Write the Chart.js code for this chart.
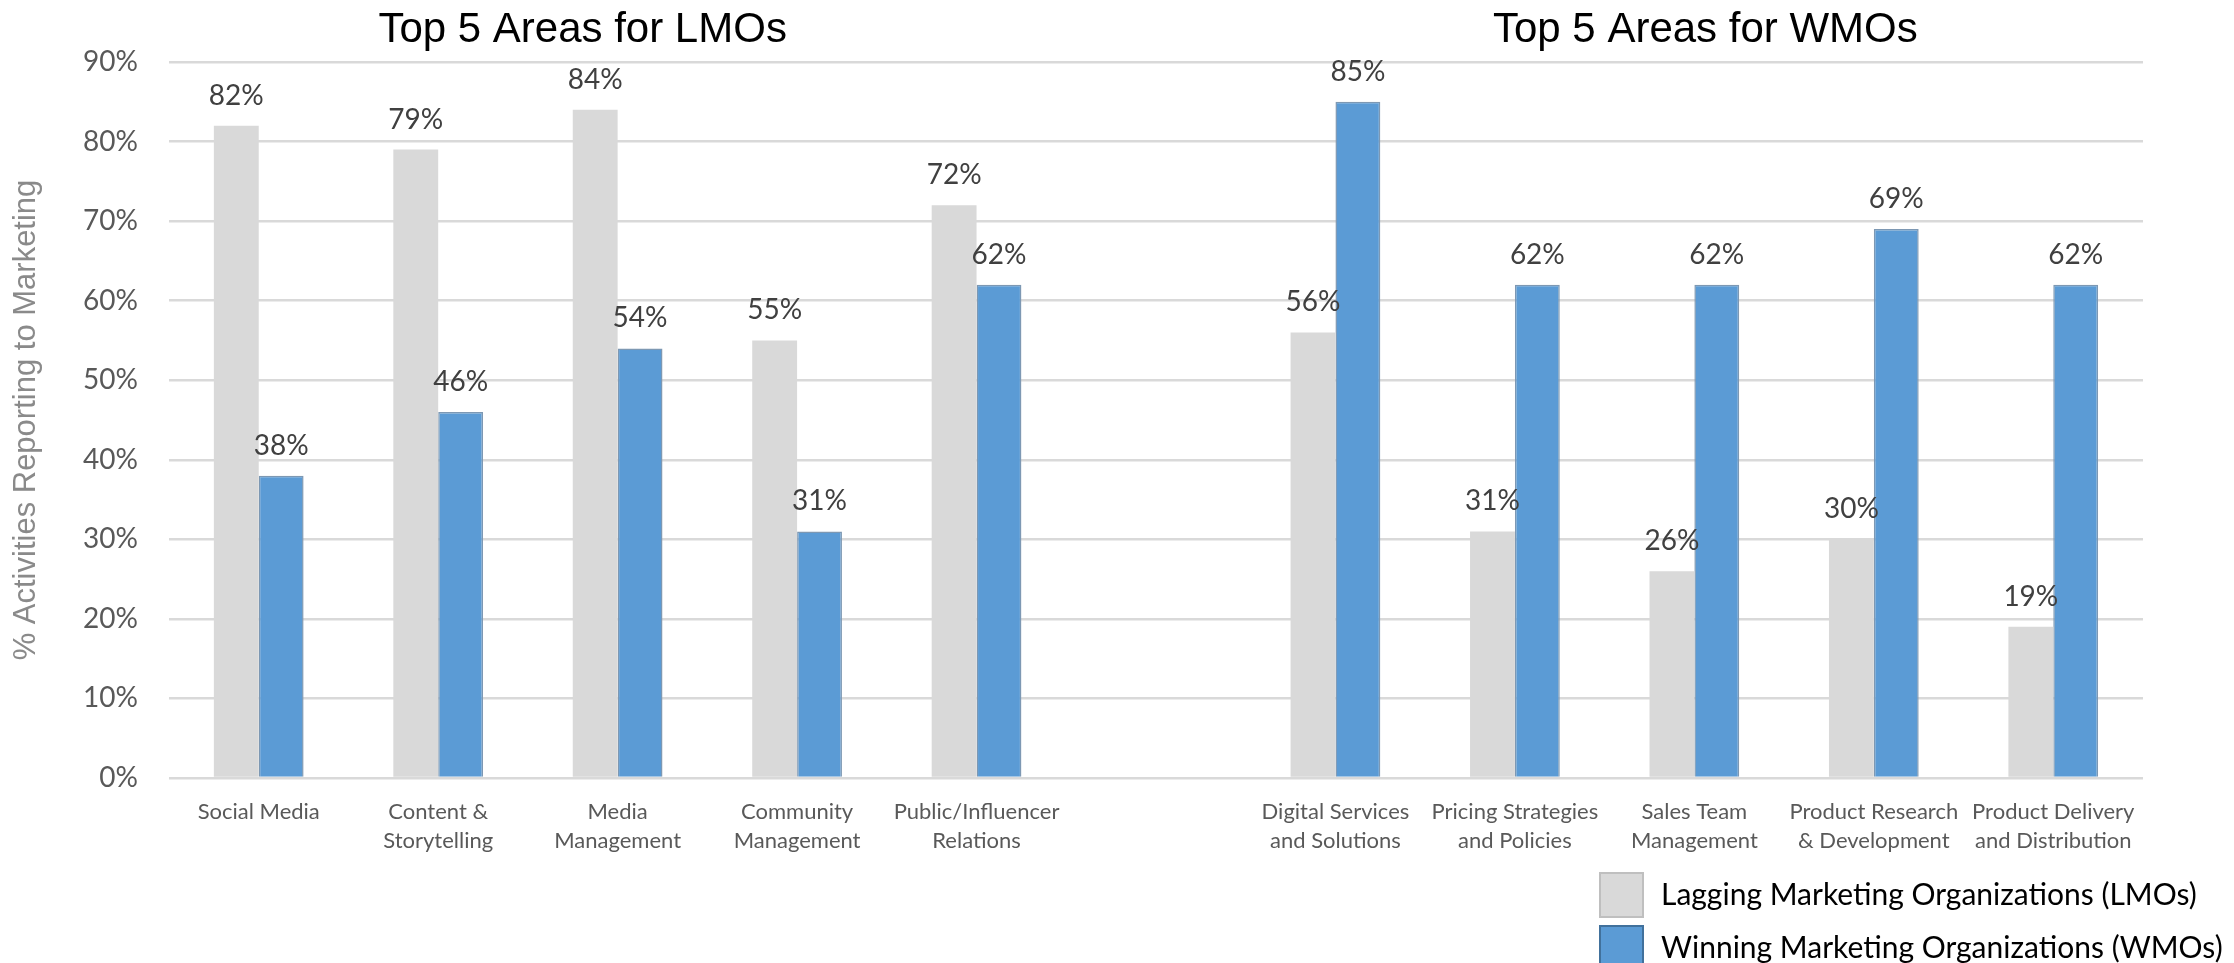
<!DOCTYPE html>
<html>
<head>
<meta charset="utf-8">
<title>Top 5 Areas for LMOs and WMOs</title>
<script src="https://cdn.jsdelivr.net/npm/chart.js@4/dist/chart.umd.min.js"></script>
<style>
  html, body { margin: 0; padding: 0; background: #fff; }
  canvas { display: block; }
</style>
</head>
<body>
<canvas id="myChart" width="2234" height="963"></canvas>
<script>
// categories: five LMO areas, an empty spacer, five WMO areas
const areas = [
  "Social Media",
  ["Content &", "Storytelling"],
  ["Media", "Management"],
  ["Community", "Management"],
  ["Public/Influencer", "Relations"],
  "",
  ["Digital Services", "and Solutions"],
  ["Pricing Strategies", "and Policies"],
  ["Sales Team", "Management"],
  ["Product Research", "& Development"],
  ["Product Delivery", "and Distribution"]
];
const lmoValues = [82, 79, 84, 55, 72, null, 56, 31, 26, 30, 19];
const wmoValues = [38, 46, 54, 31, 62, null, 85, 62, 62, 69, 62];
const seriesNames = ["Lagging Marketing Organizations (LMOs)", "Winning Marketing Organizations (WMOs)"];
const groupTitles = ["Top 5 Areas for LMOs", "Top 5 Areas for WMOs"];
const yMax = 90;
const yStep = 10;

const grayFill = "#d9d9d9";
const blueFill = "#5b9bd5";

// percentage written above each bar
const valueLabels = {
  id: "valueLabels",
  afterDatasetsDraw(chart) {
    const ctx = chart.ctx;
    ctx.save();
    ctx.font = "28px Lato";
    ctx.fillStyle = "#404040";
    ctx.textAlign = "center";
    ctx.textBaseline = "alphabetic";
    chart.data.datasets.forEach((ds, i) => {
      chart.getDatasetMeta(i).data.forEach((bar, j) => {
        if (ds.data[j] == null) return;
        ctx.fillText(ds.data[j] + "%", bar.x, bar.y - 21);
      });
    });
    ctx.restore();
  }
};

// group titles, rotated y title and the legend in the lower right
const decorations = {
  id: "decorations",
  afterDraw(chart) {
    const ctx = chart.ctx;
    const x = chart.scales.x;
    const area = chart.chartArea;
    ctx.save();

    ctx.font = "42px 'Liberation Sans', Arial, sans-serif";
    ctx.fillStyle = "#000";
    ctx.textAlign = "center";
    ctx.textBaseline = "alphabetic";
    const lmoMid = (x.getPixelForValue(0) + x.getPixelForValue(4)) / 2 - 35;
    const wmoMid = (x.getPixelForValue(6) + x.getPixelForValue(10)) / 2 + 11;
    ctx.fillText(groupTitles[0], lmoMid, 42);
    ctx.fillText(groupTitles[1], wmoMid, 42);

    ctx.save();
    ctx.translate(26, (area.top + area.bottom) / 2);
    ctx.rotate(-Math.PI / 2);
    ctx.font = "31px 'Liberation Sans', Arial, sans-serif";
    ctx.fillStyle = "#8a8a8a";
    ctx.textBaseline = "middle";
    ctx.fillText("% Activities Reporting to Marketing", 0, 0);
    ctx.restore();

    const swatches = [
      { fill: grayFill, stroke: "#bfbfbf" },
      { fill: blueFill, stroke: "#41719c" }
    ];
    ctx.font = "30px Lato";
    ctx.fillStyle = "#000";
    ctx.textAlign = "left";
    ctx.textBaseline = "middle";
    seriesNames.forEach((name, i) => {
      const top = 873 + i * 53;
      ctx.fillStyle = swatches[i].fill;
      ctx.fillRect(1600, top, 43, 44);
      ctx.strokeStyle = swatches[i].stroke;
      ctx.lineWidth = 2;
      ctx.strokeRect(1600, top, 43, 44);
      ctx.fillStyle = "#000";
      ctx.fillText(name, 1661, top + 22);
    });

    ctx.restore();
  }
};

const data = {
  labels: areas,
  datasets: [
    {
      label: seriesNames[0],
      data: lmoValues,
      backgroundColor: grayFill,
      borderWidth: 0
    },
    {
      label: seriesNames[1],
      data: wmoValues,
      backgroundColor: blueFill,
      borderColor: "#7d98b3",
      borderWidth: 1.5
    }
  ]
};

const config = {
  type: "bar",
  data: data,
  options: {
    responsive: false,
    animation: false,
    devicePixelRatio: 1,
    categoryPercentage: 0.5,
    barPercentage: 1.0,
    layout: { padding: { top: 62, right: 91, bottom: 0, left: 0 } },
    plugins: {
      legend: { display: false },
      title: { display: false },
      tooltip: { enabled: false }
    },
    scales: {
      x: {
        grid: { display: false },
        border: { display: false },
        ticks: {
          color: "#595959",
          font: { family: "Lato", size: 22, lineHeight: 1.3 },
          padding: 12,
          autoSkip: false,
          maxRotation: 0,
          minRotation: 0
        },
        afterFit(scale) { scale.height = 185; }
      },
      y: {
        min: 0,
        max: yMax,
        border: { display: false },
        grid: { color: "#d9d9d9", lineWidth: 2.5, drawTicks: false },
        ticks: {
          stepSize: yStep,
          color: "#595959",
          font: { family: "Lato", size: 28 },
          padding: 31,
          callback: v => v + "%"
        },
        afterFit(scale) { scale.width = 169; }
      }
    }
  },
  plugins: [valueLabels, decorations]
};

const myChart = new Chart(document.getElementById("myChart"), config);
</script>
</body>
</html>
